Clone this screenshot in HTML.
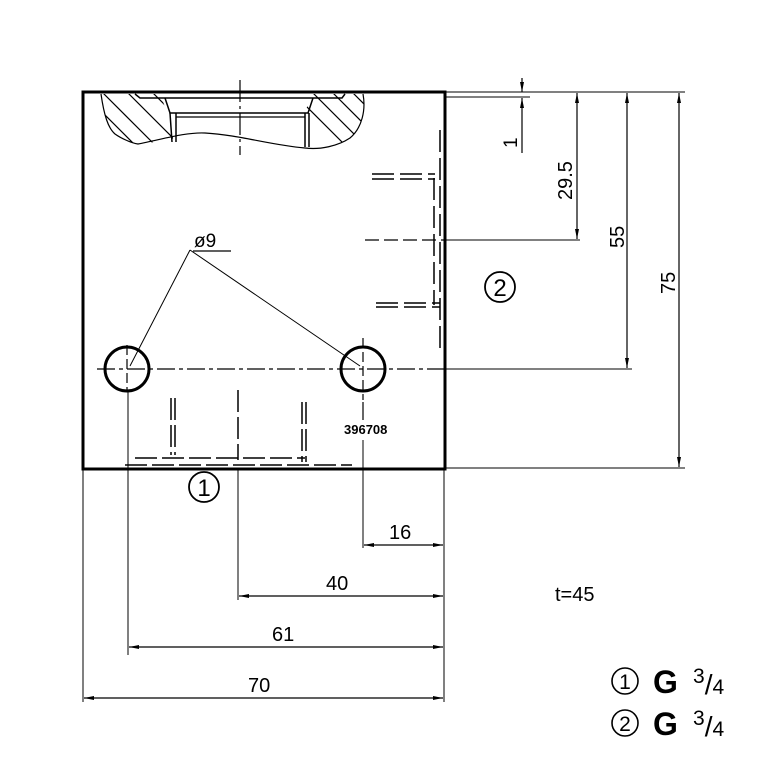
<!DOCTYPE html>
<html><head><meta charset="utf-8"><style>
html,body{margin:0;padding:0;background:#fff;}
svg{display:block;}
text{font-family:"Liberation Sans",sans-serif;fill:#000;}
</style></head><body>
<svg width="768" height="768" viewBox="0 0 768 768" xmlns="http://www.w3.org/2000/svg">
<defs>
<marker id="a" viewBox="0 0 10 6" refX="10" refY="3" markerWidth="10" markerHeight="6" orient="auto-start-reverse" markerUnits="userSpaceOnUse"><path d="M0,1 L10,3 L0,5Z" fill="#000"/></marker>
<clipPath id="hl"><path d="M101,94 C104,115 108,128 115,134 C122,139 132,143 138,144 L173,140 L172,113 L167,112 L160,94Z"/></clipPath>
<clipPath id="hr"><path d="M312,94 L305,112 L305,148 C320,150 338,146 350,138 C362,128 366,110 363,94Z"/></clipPath>
</defs>
<g fill="none" stroke="#000">
<rect x="83" y="92" width="362" height="377" stroke-width="3"/>
<path d="M101,94 C104,115 108,128 115,134 C122,139 132,143 138,144 C160,140 185,132 205,133 C240,135 270,145 305,148 C320,150 338,146 350,138 C362,128 366,110 363,94" stroke-width="1.2"/>
<path d="M135,94 L140,98 L342,98 L345,94" stroke-width="1.5"/>
<path d="M165,98 L170,113 L308,113 L313,98" stroke-width="1.5"/>
<path d="M170,113 L172,142 M176,113 L176,142 M305,113 L305,147 M309,113 L309,147" stroke-width="1.5"/>
<path d="M176,117 L305,117" stroke-width="1.2"/>
<g clip-path="url(#hl)" stroke-width="1.2"><path d="M80,90 L150,160 M100,90 L170,160 M125,90 L195,160 M150,90 L220,160"/></g>
<g clip-path="url(#hr)" stroke-width="1.2"><path d="M300,100 L350,150 M310,90 L370,150 M330,90 L380,140 M350,90 L390,130"/></g>
<path d="M240,80 L240,155" stroke-width="1.2" stroke-dasharray="22,4,3,4"/>
<circle cx="127" cy="369" r="22" stroke-width="3"/>
<circle cx="363" cy="369" r="22" stroke-width="3"/>
<path d="M97,369 L446,369" stroke-width="1.2" stroke-dasharray="18,4,4,4"/>
<path d="M127,345 L127,392 M363,338 L363,400" stroke-width="1.2" stroke-dasharray="10,4"/>
<path d="M190,250 L130,366 M190,250 L360,366" stroke-width="1"/>
<path d="M193,251 L231,251" stroke-width="1.2"/>
<path d="M372,174 L435,174 M372,179 L435,179 M434,178 L434,305 M440,130 L440,352 M376,303 L440,303 M376,307 L440,307" stroke-width="1.5" stroke-dasharray="22,6"/>
<path d="M365,240 L446,240" stroke-width="1.2" stroke-dasharray="14,5"/>
<path d="M171,398 L171,455 M175,398 L175,455 M302,402 L302,462 M306,402 L306,462 M238,390 L238,460 M135,458 L305,458 M125,465 L352,465" stroke-width="1.5" stroke-dasharray="22,5"/>
<path d="M363,402 L363,420" stroke-width="1.2"/>
<path d="M128,392 L128,655 M238,470 L238,600 M363,440 L363,548 M444,470 L444,702 M83,470 L83,702" stroke-width="1"/>
<path d="M364,545 L443,545" stroke-width="1.2" marker-start="url(#a)" marker-end="url(#a)"/>
<path d="M239,596 L443,596" stroke-width="1.2" marker-start="url(#a)" marker-end="url(#a)"/>
<path d="M129,647 L443,647" stroke-width="1.2" marker-start="url(#a)" marker-end="url(#a)"/>
<path d="M84,698 L443,698" stroke-width="1.2" marker-start="url(#a)" marker-end="url(#a)"/>
<path d="M446,92 L685,92 M446,97 L530,97 M446,240 L580,240 M446,369 L632,369 M446,468 L685,468" stroke-width="1"/>
<path d="M577,93 L577,239" stroke-width="1.2" marker-start="url(#a)" marker-end="url(#a)"/>
<path d="M627,93 L627,368" stroke-width="1.2" marker-start="url(#a)" marker-end="url(#a)"/>
<path d="M679,93 L679,467" stroke-width="1.2" marker-start="url(#a)" marker-end="url(#a)"/>
<path d="M522,78 L522,92" stroke-width="1.2" marker-end="url(#a)"/>
<path d="M522,153 L522,98" stroke-width="1.2" marker-end="url(#a)"/>
<circle cx="204" cy="487" r="15" stroke-width="1.8"/>
<circle cx="500" cy="287" r="15" stroke-width="1.8"/>
<circle cx="625" cy="681" r="13" stroke-width="1.6"/>
<circle cx="625" cy="723" r="13" stroke-width="1.6"/>
</g>
<text x="194" y="247" font-size="19">ø9</text>
<text x="344" y="434" font-size="13" font-weight="bold">396708</text>
<text x="389" y="539" font-size="20">16</text>
<text x="326" y="590" font-size="20">40</text>
<text x="272" y="641" font-size="20">61</text>
<text x="248" y="692" font-size="20">70</text>
<text x="555" y="601" font-size="20">t=45</text>
<text transform="translate(517,148) rotate(-90)" font-size="19">1</text>
<text transform="translate(572,200) rotate(-90)" font-size="20">29.5</text>
<text transform="translate(624,248) rotate(-90)" font-size="20">55</text>
<text transform="translate(675,294) rotate(-90)" font-size="20">75</text>
<text x="204" y="496" font-size="24" text-anchor="middle">1</text>
<text x="500" y="296" font-size="24" text-anchor="middle">2</text>
<text x="625" y="689" font-size="21" text-anchor="middle">1</text>
<text x="625" y="731" font-size="21" text-anchor="middle">2</text>
<text x="653" y="693" font-size="32" font-weight="bold">G</text>
<text x="653" y="735" font-size="32" font-weight="bold">G</text>
<text x="693" y="694" font-size="28"><tspan font-size="21" dy="-11">3</tspan><tspan dy="11">/</tspan><tspan font-size="21">4</tspan></text>
<text x="693" y="736" font-size="28"><tspan font-size="21" dy="-11">3</tspan><tspan dy="11">/</tspan><tspan font-size="21">4</tspan></text>
</svg>
</body></html>
